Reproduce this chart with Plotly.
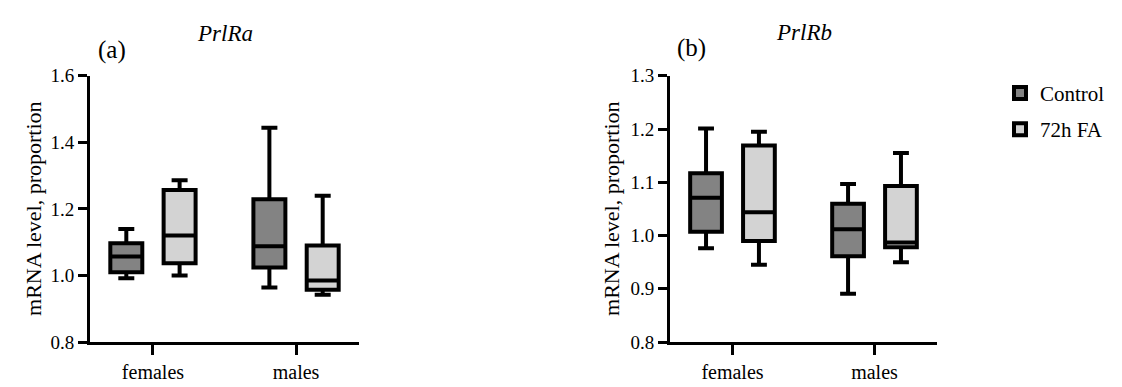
import plotly.graph_objects as go

W, H = 1122, 387

categories = ["females", "males"]
groups = ["Control", "72h FA"]

# PrlRa box statistics (Control, 72h FA) per category
a_ctrl_min = [0.992, 0.964]
a_ctrl_q1 = [1.010, 1.024]
a_ctrl_med = [1.057, 1.088]
a_ctrl_q3 = [1.097, 1.229]
a_ctrl_max = [1.140, 1.444]

a_fa_min = [1.000, 0.942]
a_fa_q1 = [1.037, 0.957]
a_fa_med = [1.120, 0.985]
a_fa_q3 = [1.257, 1.090]
a_fa_max = [1.286, 1.240]

# PrlRb box statistics
b_ctrl_min = [0.976, 0.891]
b_ctrl_q1 = [1.007, 0.961]
b_ctrl_med = [1.071, 1.012]
b_ctrl_q3 = [1.117, 1.060]
b_ctrl_max = [1.201, 1.097]

b_fa_min = [0.945, 0.950]
b_fa_q1 = [0.990, 0.978]
b_fa_med = [1.044, 0.987]
b_fa_q3 = [1.169, 1.093]
b_fa_max = [1.195, 1.155]

a_ticks = [0.8, 1.0, 1.2, 1.4, 1.6]
a_ticktext = ["0.8", "1.0", "1.2", "1.4", "1.6"]
b_ticks = [0.8, 0.9, 1.0, 1.1, 1.2, 1.3]
b_ticktext = ["0.8", "0.9", "1.0", "1.1", "1.2", "1.3"]

FONT = "Liberation Serif, Times New Roman, serif"
colors = {"Control": "#838383", "72h FA": "#d3d3d3"}


def py(y):
    # vertical pixel position (from top) -> paper fraction
    return 1 - (y - 10) / 367


def px(x):
    return x / W


fig = go.Figure()


def add_box(name, mins, q1, med, q3, maxs, xa, ya, show, panel):
    fig.add_trace(go.Box(
        name=name, x=categories, q1=q1, median=med, q3=q3,
        lowerfence=mins, upperfence=maxs,
        fillcolor=colors[name], line=dict(color="black", width=4),
        whiskerwidth=0.5, boxpoints=False, xaxis=xa, yaxis=ya,
        alignmentgroup=panel, offsetgroup=name,
        showlegend=show, legendgroup=name, hoverinfo="y",
    ))


add_box("Control", a_ctrl_min, a_ctrl_q1, a_ctrl_med, a_ctrl_q3, a_ctrl_max, "x", "y", True, "a")
add_box("72h FA", a_fa_min, a_fa_q1, a_fa_med, a_fa_q3, a_fa_max, "x", "y", True, "a")
add_box("Control", b_ctrl_min, b_ctrl_q1, b_ctrl_med, b_ctrl_q3, b_ctrl_max, "x2", "y2", False, "b")
add_box("72h FA", b_fa_min, b_fa_q1, b_fa_med, b_fa_q3, b_fa_max, "x2", "y2", False, "b")

ydom = [py(343), py(76)]
xdom1 = [px(90), px(359)]
xdom2 = [px(670), px(937)]

xax = dict(type="category", range=[-0.44, 1.44], showline=True, linecolor="black",
           linewidth=3, ticks="outside", ticklen=10, tickwidth=3, tickcolor="black",
           showgrid=False, zeroline=False, tickfont=dict(size=20, color="black", family=FONT))
yax = dict(showline=True, linecolor="black", linewidth=3, ticks="outside", ticklen=9,
           tickwidth=3, tickcolor="black", showgrid=False, zeroline=False,
           tickfont=dict(size=19, color="black", family=FONT))

fig.update_layout(
    width=W, height=H,
    margin=dict(l=0, r=0, t=0, b=0),
    paper_bgcolor="white", plot_bgcolor="white",
    font=dict(family=FONT, color="black", size=19),
    boxmode="group", boxgap=0.255, boxgroupgap=0.4,
    xaxis=dict(xax, domain=xdom1, anchor="y"),
    yaxis=dict(yax, domain=ydom, anchor="x", range=[0.8, 1.6], tickvals=a_ticks, ticktext=a_ticktext),
    xaxis2=dict(xax, domain=xdom2, anchor="y2"),
    yaxis2=dict(yax, domain=ydom, anchor="x2", range=[0.8, 1.3], tickvals=b_ticks, ticktext=b_ticktext),
    legend=dict(x=px(1000), y=py(73), xanchor="left", yanchor="top",
                font=dict(size=21, family=FONT, color="black"),
                tracegroupgap=6, bgcolor="rgba(0,0,0,0)"),
)

ann = [
    dict(text="<i>PrlRa</i>", x=px(224.5), y=py(34), size=23),
    dict(text="<i>PrlRb</i>", x=px(803.5), y=py(33), size=23),
    dict(text="(a)", x=px(112), y=py(50), size=25),
    dict(text="(b)", x=px(692), y=py(48), size=25),
]
for a in ann:
    fig.add_annotation(text=a["text"], x=a["x"], y=a["y"], xref="paper", yref="paper",
                       xanchor="center", yanchor="middle", showarrow=False,
                       font=dict(size=a["size"], family=FONT, color="black"))

for xc in (34, 612):
    fig.add_annotation(text="mRNA level, proportion", x=px(xc), y=py(209.5),
                       xref="paper", yref="paper", xanchor="center", yanchor="middle",
                       textangle=-90, showarrow=False,
                       font=dict(size=22, family=FONT, color="black"))

fig.write_html("out.html", post_script="document.body.style.margin='0';",
               config={"displayModeBar": False})
